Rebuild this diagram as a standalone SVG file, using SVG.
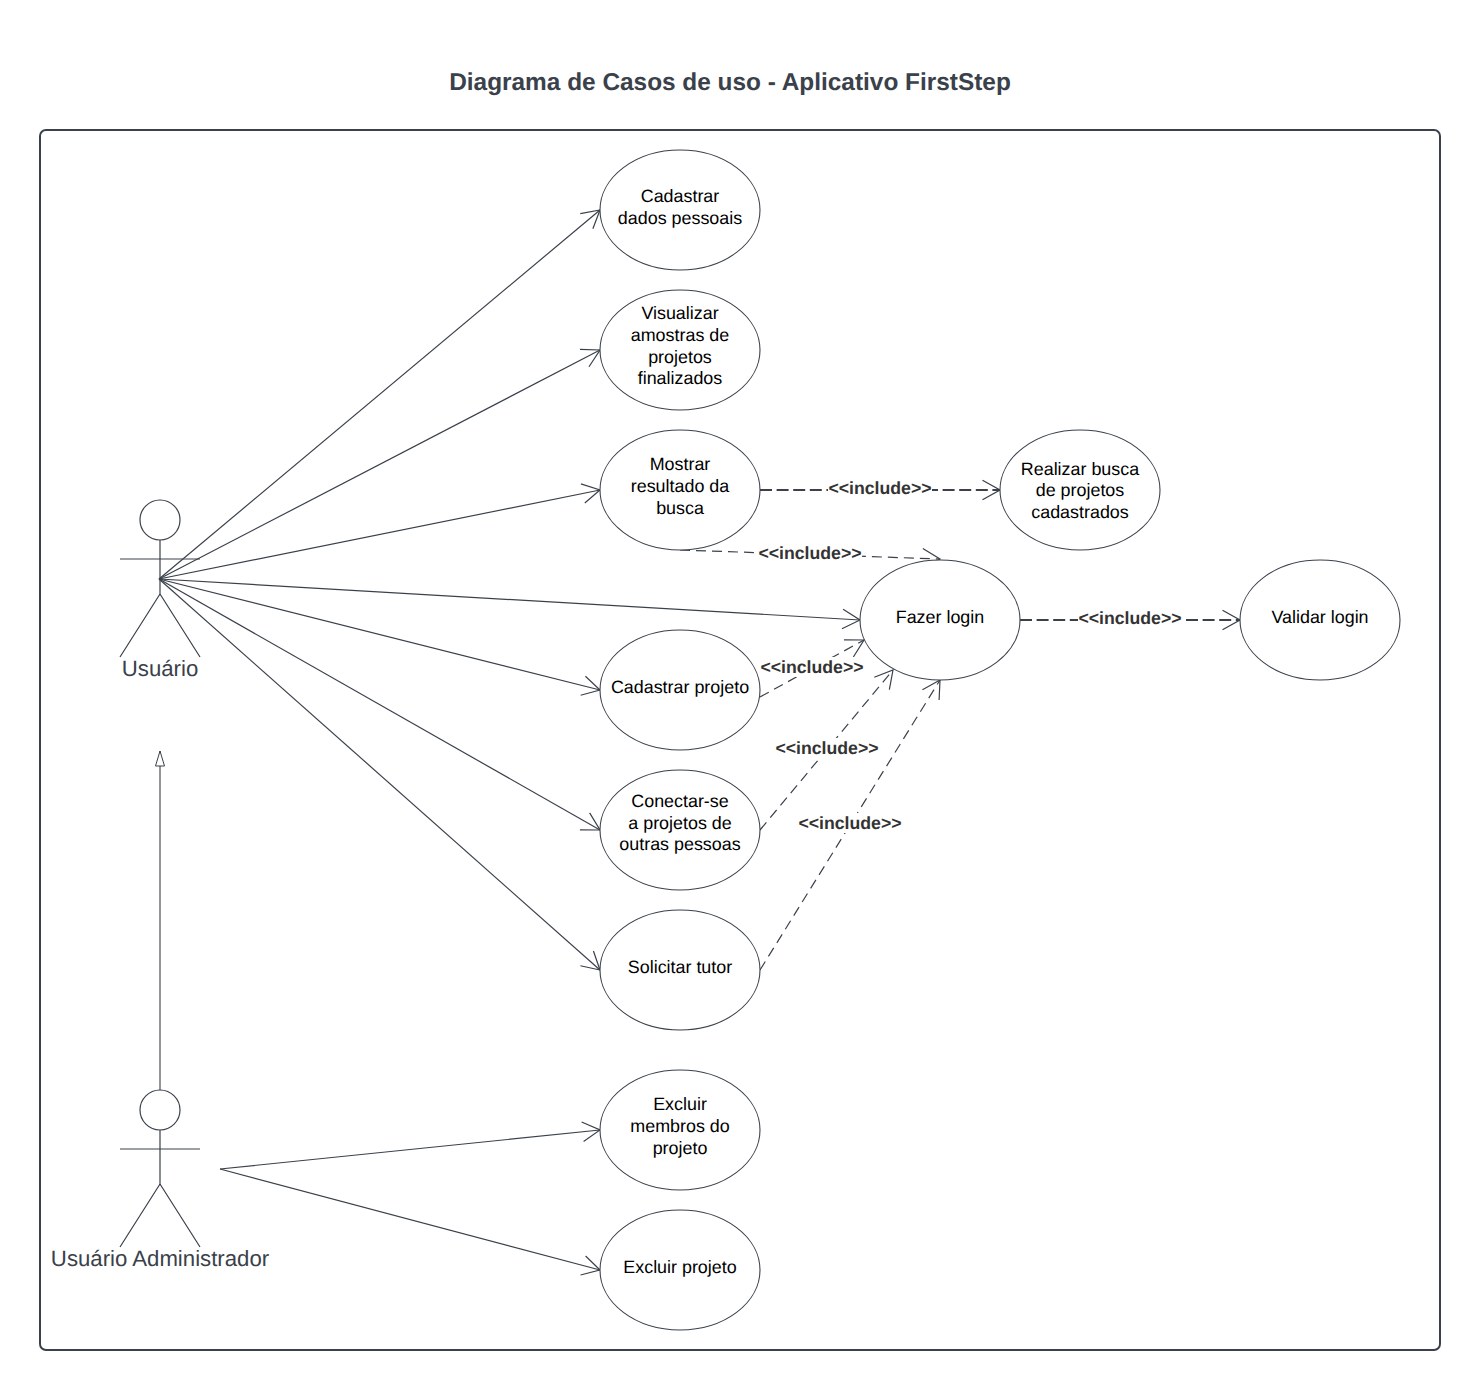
<svg xmlns="http://www.w3.org/2000/svg" width="1480" height="1390" viewBox="0 0 1480 1390">
<defs>
<marker id="open" viewBox="-20 -12 22 24" refX="0" refY="0" markerWidth="22" markerHeight="24" markerUnits="userSpaceOnUse" orient="auto"><path d="M-17.5-9.8L0 0L-17.5 9.8" fill="none" stroke="#3a414a" stroke-width="1.2"/></marker>
<marker id="openB" viewBox="-20 -12 22 24" refX="0" refY="0" markerWidth="22" markerHeight="24" markerUnits="userSpaceOnUse" orient="auto"><path d="M-17.5-9.8L0 0L-17.5 9.8" fill="none" stroke="#3a414a" stroke-width="1.3"/></marker>
<marker id="tri" viewBox="-16 -6 18 12" refX="0" refY="0" markerWidth="18" markerHeight="12" markerUnits="userSpaceOnUse" orient="auto"><path d="M-15-4.5L0 0L-15 4.5Z" fill="#fff" stroke="#3a414a" stroke-width="1"/></marker>
</defs>
<style>
text{font-family:"Liberation Sans",Arial,sans-serif;text-rendering:geometricPrecision}
.u{fill:#fff;stroke:#3a414a;stroke-width:1.1}
.ut{font-size:17.9px;fill:#000;text-anchor:middle}
.a{fill:none;stroke:#3a414a;stroke-width:1.2}
.an{font-size:22.2px;fill:#3a414a;text-anchor:middle}
.c{fill:none;stroke:#3a414a;stroke-width:1.2;marker-end:url(#open)}
.d{fill:none;stroke:#3a414a;stroke-width:1.2;stroke-dasharray:10 6;marker-end:url(#open)}
.dh{fill:none;stroke:#3a414a;stroke-width:2;stroke-dasharray:12 4.6;marker-end:url(#openB)}
.l{font-size:17.7px;font-weight:bold;fill:#333;text-anchor:middle}
</style>
<text x="730" y="90" font-size="24.4" font-weight="bold" fill="#3a414a" text-anchor="middle">Diagrama de Casos de uso - Aplicativo FirstStep</text>
<rect id="frame" x="40" y="130" width="1400" height="1220" rx="6" fill="#fff" stroke="#3a414a" stroke-width="2"/>
<g id="connectors">
<path class="c" d="M159 579L600 210"/>
<path class="c" d="M159 579L600 350"/>
<path class="c" d="M159 579L600 490"/>
<path class="c" d="M159 579L860 620"/>
<path class="c" d="M159 579L600 690"/>
<path class="c" d="M159 579L600 830"/>
<path class="c" d="M159 579L600 970"/>
<path class="c" d="M220 1169L600 1130"/>
<path class="c" d="M220 1169L600 1270"/>
<path fill="none" stroke="#3a414a" stroke-width="1.1" marker-end="url(#tri)" d="M160 1090L160 751"/>
<path class="dh" d="M760 490L1000 490"/>
<path class="dh" d="M1020 620L1240 620"/>
<path class="d" d="M680 550L940 559"/>
<path class="d" d="M760 697L864 640"/>
<path class="d" d="M760 830L893 670"/>
<path class="d" d="M760 970L940 680"/>
</g>
<g id="connector-labels">
<rect x="828" y="478" width="104" height="20" fill="#fff"/><text class="l" x="880" y="493.5">&lt;&lt;include&gt;&gt;</text>
<rect x="758" y="543" width="104" height="20" fill="#fff"/><text class="l" x="810" y="558.5">&lt;&lt;include&gt;&gt;</text>
<rect x="1078" y="608" width="104" height="20" fill="#fff"/><text class="l" x="1130" y="623.5">&lt;&lt;include&gt;&gt;</text>
<rect x="760" y="657" width="104" height="20" fill="#fff"/><text class="l" x="812" y="672.5">&lt;&lt;include&gt;&gt;</text>
<rect x="775" y="738" width="104" height="20" fill="#fff"/><text class="l" x="827" y="753.5">&lt;&lt;include&gt;&gt;</text>
<rect x="798" y="813" width="104" height="20" fill="#fff"/><text class="l" x="850" y="828.5">&lt;&lt;include&gt;&gt;</text>
</g>
<g id="actor-usuario">
<circle class="a" cx="160" cy="520" r="20"/>
<path class="a" d="M160 540V594M120 559H200M160 594L120 657M160 594L200 657"/>
<text class="an" x="160" y="676">Usuário</text>
</g>
<g id="actor-admin">
<circle class="a" cx="160" cy="1110" r="20"/>
<path class="a" d="M160 1130V1184M120 1149H200M160 1184L120 1247M160 1184L200 1247"/>
<text class="an" x="160" y="1266">Usuário Administrador</text>
</g>
<g id="uc-cadastrar-dados"><ellipse class="u" cx="680" cy="210" rx="80" ry="60"/><text class="ut" x="680" y="202">Cadastrar</text><text class="ut" x="680" y="223.7">dados pessoais</text></g>
<g id="uc-visualizar"><ellipse class="u" cx="680" cy="350" rx="80" ry="60"/><text class="ut" x="680" y="319">Visualizar</text><text class="ut" x="680" y="341">amostras de</text><text class="ut" x="680" y="362.6">projetos</text><text class="ut" x="680" y="384">finalizados</text></g>
<g id="uc-mostrar"><ellipse class="u" cx="680" cy="490" rx="80" ry="60"/><text class="ut" x="680" y="470">Mostrar</text><text class="ut" x="680" y="492">resultado da</text><text class="ut" x="680" y="513.6">busca</text></g>
<g id="uc-realizar"><ellipse class="u" cx="1080" cy="490" rx="80" ry="60"/><text class="ut" x="1080" y="475">Realizar busca</text><text class="ut" x="1080" y="496">de projetos</text><text class="ut" x="1080" y="517.6">cadastrados</text></g>
<g id="uc-login"><ellipse class="u" cx="940" cy="620" rx="80" ry="60"/><text class="ut" x="940" y="623">Fazer login</text></g>
<g id="uc-validar"><ellipse class="u" cx="1320" cy="620" rx="80" ry="60"/><text class="ut" x="1320" y="623">Validar login</text></g>
<g id="uc-cadastrar-projeto"><ellipse class="u" cx="680" cy="690" rx="80" ry="60"/><text class="ut" x="680" y="693">Cadastrar projeto</text></g>
<g id="uc-conectar"><ellipse class="u" cx="680" cy="830" rx="80" ry="60"/><text class="ut" x="680" y="807">Conectar-se</text><text class="ut" x="680" y="828.6">a projetos de</text><text class="ut" x="680" y="850">outras pessoas</text></g>
<g id="uc-tutor"><ellipse class="u" cx="680" cy="970" rx="80" ry="60"/><text class="ut" x="680" y="973">Solicitar tutor</text></g>
<g id="uc-excluir-membros"><ellipse class="u" cx="680" cy="1130" rx="80" ry="60"/><text class="ut" x="680" y="1110">Excluir</text><text class="ut" x="680" y="1132">membros do</text><text class="ut" x="680" y="1153.6">projeto</text></g>
<g id="uc-excluir-projeto"><ellipse class="u" cx="680" cy="1270" rx="80" ry="60"/><text class="ut" x="680" y="1273">Excluir projeto</text></g>
</svg>
